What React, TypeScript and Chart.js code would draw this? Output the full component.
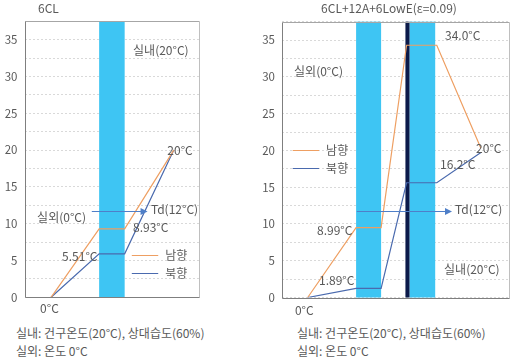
import React, { useEffect, useRef } from 'react';
import { Chart, registerables } from 'chart.js';

Chart.register(...registerables);

const FONT = '"Noto Sans CJK KR", "Noto Sans", sans-serif';
const TEXT = '#595959';
const SOUTH_COLOR = '#EE9F62';
const NORTH_COLOR = '#4A6AAE';
const TD_COLOR = '#4F7FC8';
const GLASS_COLOR = '#3EC5F3';
const COATING_COLOR = '#0C1A4A';

// ---- shared ----
const seriesNames = ['남향', '북향'];
const yMax = 37.5;
const yStep = 2.5;
const footerLines = ['실내: 건구온도(20°C), 상대습도(60%)', '실외: 온도 0°C'];

// ---- left panel: 6CL ----
const leftTitle = '6CL';
const leftPositions = [15.2, 42.7, 57.3, 85.4];
const leftSouth = [0, 9.3, 9.3, 20];
const leftNorth = [0, 5.9, 5.9, 20];
const leftGlass = [[42.7, 57.3]];
const leftCoating: number[][] = [];
const leftTdRange = [38.5, 70.4];
const leftTdValue = 11.7;
const leftLabels = ['실내(20°C)', '20°C', 'Td(12°C)', '실외(0°C)', '8.93°C', '5.51°C', '0°C'];

// ---- right panel: 6CL+12A+6LowE ----
const rightTitle = '6CL+12A+6LowE(ε=0.09)';
const rightPositions = [11.3, 32.6, 43.6, 54.8, 68.1, 87.5];
const rightSouth = [0, 9.5, 9.5, 34.3, 34.3, 20.3];
const rightNorth = [0, 1.25, 1.25, 15.6, 15.6, 19.7];
const rightGlass = [[32.6, 43.6], [56.1, 67.4]];
const rightCoating = [[54.3, 56.1]];
const rightTdRange = [32.9, 74.8];
const rightTdValue = 11.8;
const rightLabels = ['34.0°C', '실외(0°C)', '20°C', '16.2°C', 'Td(12°C)', '8.99°C', '1.89°C', '실내(20°C)', '0°C'];

// label anchors (data units), kept apart from the data
const leftLabelAt = [[62.1, 33.5], [81.7, 20.0], [72.3, 11.9], [7.2, 10.9], [62.1, 9.55], [21.5, 5.6], [8.9, -1.45]];
const rightLabelAt = [[71.7, 35.7], [5.3, 30.7], [85.4, 20.3], [69.5, 18.15], [76.1, 12.0], [15.4, 9.1], [16.3, 2.3], [71.3, 3.75], [5.7, -1.8]];

type Panel = {
  positions: number[];
  south: number[];
  north: number[];
  glass: number[][];
  coating: number[][];
  tdRange: number[];
  tdValue: number;
  labels: string[];
  labelAt: number[][];
  legendLine: number[];
  legendY: number[];
  legendTextX: number;
  width: number;
  height: number;
  axisWidth: number;
  padding: { top: number; bottom: number; right: number; left: number };
};

function makePlugin(p: Panel) {
  return {
    id: 'panelDecor',
    beforeDatasetsDraw(chart: any) {
      const { ctx, chartArea: a, scales } = chart;
      const x = scales.x;
      ctx.save();
      ctx.fillStyle = GLASS_COLOR;
      for (const [s, e] of p.glass) {
        const x1 = x.getPixelForValue(s);
        const x2 = x.getPixelForValue(e);
        ctx.fillRect(x1, a.top, x2 - x1, a.bottom - a.top);
      }
      ctx.fillStyle = COATING_COLOR;
      for (const [s, e] of p.coating) {
        const x1 = x.getPixelForValue(s);
        const x2 = x.getPixelForValue(e);
        ctx.fillRect(x1, a.top, x2 - x1, a.bottom - a.top);
      }
      ctx.restore();
    },
    afterDatasetsDraw(chart: any) {
      const { ctx, chartArea: a, scales } = chart;
      const x = scales.x;
      const y = scales.y;
      ctx.save();
      // frame
      const L = Math.round(a.left) + 0.5;
      const R = Math.round(a.right) + 0.5;
      const T = Math.round(a.top) + 0.5;
      const B = Math.round(a.bottom) + 0.5;
      ctx.lineWidth = 1;
      ctx.strokeStyle = '#A6A6A6';
      ctx.beginPath(); ctx.moveTo(L, T); ctx.lineTo(R, T); ctx.stroke();
      ctx.strokeStyle = '#BFBFBF';
      ctx.beginPath(); ctx.moveTo(R, T); ctx.lineTo(R, B); ctx.stroke();
      ctx.strokeStyle = '#7F7F7F';
      ctx.beginPath(); ctx.moveTo(L, T); ctx.lineTo(L, B); ctx.lineTo(R, B); ctx.stroke();

      // Td arrow
      const tx1 = x.getPixelForValue(p.tdRange[0]);
      const tx2 = x.getPixelForValue(p.tdRange[1]);
      const ty = Math.round(y.getPixelForValue(p.tdValue)) + 0.5;
      ctx.strokeStyle = TD_COLOR;
      ctx.fillStyle = TD_COLOR;
      ctx.beginPath(); ctx.moveTo(tx1, ty); ctx.lineTo(tx2 - 4, ty); ctx.stroke();
      ctx.beginPath();
      ctx.moveTo(tx2, ty);
      ctx.lineTo(tx2 - 7, ty - 3.5);
      ctx.lineTo(tx2 - 7, ty + 3.5);
      ctx.closePath();
      ctx.fill();

      // legend
      const colors = [SOUTH_COLOR, NORTH_COLOR];
      ctx.font = `12px ${FONT}`;
      ctx.textBaseline = 'middle';
      ctx.textAlign = 'left';
      for (let i = 0; i < seriesNames.length; i++) {
        const ly = Math.round(y.getPixelForValue(p.legendY[i])) + 0.5;
        ctx.strokeStyle = colors[i];
        ctx.lineWidth = 1;
        ctx.beginPath();
        ctx.moveTo(x.getPixelForValue(p.legendLine[0]), ly);
        ctx.lineTo(x.getPixelForValue(p.legendLine[1]), ly);
        ctx.stroke();
        ctx.fillStyle = TEXT;
        ctx.fillText(seriesNames[i], x.getPixelForValue(p.legendTextX), ly);
      }

      // annotations
      ctx.fillStyle = TEXT;
      for (let i = 0; i < p.labels.length; i++) {
        const [lx, ly] = p.labelAt[i];
        ctx.fillText(p.labels[i], x.getPixelForValue(lx), y.getPixelForValue(ly));
      }
      ctx.restore();
    },
  };
}

function PanelChart({ panel }: { panel: Panel }) {
  const ref = useRef<HTMLCanvasElement | null>(null);
  useEffect(() => {
    if (!ref.current) return;
    const toPoints = (vals: number[]) => vals.map((v, i) => ({ x: panel.positions[i], y: v }));
    const chart = new Chart(ref.current, {
      type: 'scatter',
      data: {
        datasets: [
          { label: seriesNames[0], data: toPoints(panel.south), showLine: true, borderColor: SOUTH_COLOR, borderWidth: 1.2, pointRadius: 0, tension: 0 },
          { label: seriesNames[1], data: toPoints(panel.north), showLine: true, borderColor: NORTH_COLOR, borderWidth: 1.2, pointRadius: 0, tension: 0 },
        ],
      },
      options: {
        responsive: false,
        animation: false,
        events: [],
        layout: { padding: panel.padding },
        plugins: { legend: { display: false }, tooltip: { enabled: false } },
        scales: {
          x: { type: 'linear', min: 0, max: 100, display: false },
          y: {
            min: 0,
            max: yMax,
            afterFit: (s: any) => { s.width = panel.axisWidth; },
            ticks: {
              stepSize: yStep,
              autoSkip: false,
              padding: 7,
              color: TEXT,
              font: { family: FONT, size: 11.5 },
              callback: (v: any) => (Number(v) % 5 === 0 && Number(v) < yMax ? String(v) : ''),
            },
            grid: { color: '#D9D9D9', drawTicks: false, lineWidth: 1 },
            border: { display: false, dash: [2, 2] },
          },
        },
      },
      plugins: [makePlugin(panel)],
    } as any);
    return () => chart.destroy();
  }, [panel]);
  return <canvas ref={ref} width={panel.width} height={panel.height} style={{ width: panel.width, height: panel.height, display: 'block' }} />;
}

const leftPanel: Panel = {
  positions: leftPositions,
  south: leftSouth,
  north: leftNorth,
  glass: leftGlass,
  coating: leftCoating,
  tdRange: leftTdRange,
  tdValue: leftTdValue,
  labels: leftLabels,
  labelAt: leftLabelAt,
  legendLine: [61.4, 76.5],
  legendY: [5.75, 3.35],
  legendTextX: 80.5,
  width: 256,
  height: 320,
  axisWidth: 24.5,
  padding: { top: 21.3, bottom: 22.7, right: 56.7, left: 0 },
};

const rightPanel: Panel = {
  positions: rightPositions,
  south: rightSouth,
  north: rightNorth,
  glass: rightGlass,
  coating: rightCoating,
  tdRange: rightTdRange,
  tdValue: rightTdValue,
  labels: rightLabels,
  labelAt: rightLabelAt,
  legendLine: [4.7, 16.3],
  legendY: [20.05, 17.55],
  legendTextX: 19.4,
  width: 257,
  height: 320,
  axisWidth: 26,
  padding: { top: 21.7, bottom: 22.5, right: 3.7, left: 0 },
};

export default function App() {
  const textStyle: React.CSSProperties = { position: 'absolute', fontFamily: FONT, fontSize: 12, color: TEXT, whiteSpace: 'nowrap', lineHeight: '18px' };
  return (
    <div style={{ position: 'fixed', left: 0, top: 0, width: 513, height: 363, background: '#fff', overflow: 'hidden' }}>
      <div style={{ position: 'absolute', left: 0, top: 0 }}>
        <PanelChart panel={leftPanel} />
      </div>
      <div style={{ position: 'absolute', left: 256, top: 0 }}>
        <PanelChart panel={rightPanel} />
      </div>
      <div style={{ ...textStyle, left: 38, top: -1 }}>{leftTitle}</div>
      <div style={{ ...textStyle, left: 256 + 133, top: -1, transform: 'translateX(-50%)' }}>{rightTitle}</div>
      <div style={{ ...textStyle, left: 16, top: 324 }}>
        {footerLines.map((l, i) => <div key={i}>{l}</div>)}
      </div>
      <div style={{ ...textStyle, left: 297, top: 324 }}>
        {footerLines.map((l, i) => <div key={i}>{l}</div>)}
      </div>
    </div>
  );
}
